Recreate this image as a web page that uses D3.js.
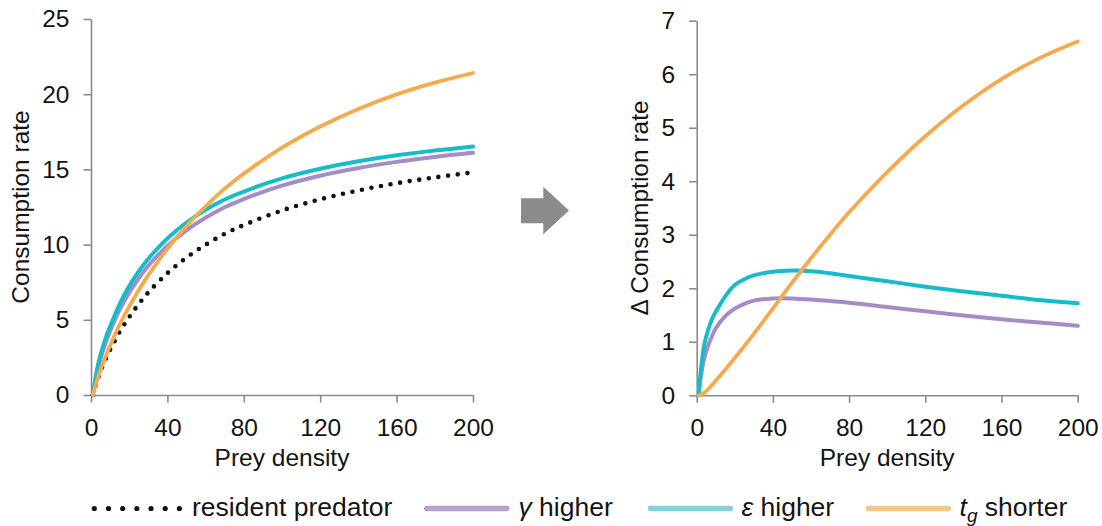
<!DOCTYPE html>
<html>
<head>
<meta charset="utf-8">
<script src="https://cdn.jsdelivr.net/npm/d3@7"></script>
<style>
  html, body { margin: 0; padding: 0; background: #fff; }
  svg { display: block; font-family: "Liberation Sans", Arial, sans-serif; }
</style>
</head>
<body>
<script>
// Prey density grid shared by every curve
const preyDensity = [1, 2, 4, 6, 8, 10, 15, 20, 25, 30, 40, 50, 60, 70, 80, 100, 120, 140, 160, 180, 200];

// Consumption rate (left panel)
const residentRate = [0, 0.45, 1.25, 1.9, 2.48, 3.0, 4.2, 5.18, 6.05, 6.82, 8.1, 9.14, 9.99, 10.72, 11.3, 12.27, 13.01, 13.6, 14.08, 14.47, 14.8];
const gammaRate    = [0, 0.75, 1.95, 2.83, 3.58, 4.25, 5.68, 6.8, 7.76, 8.59, 9.91, 10.95, 11.78, 12.48, 13.03, 13.92, 14.58, 15.09, 15.5, 15.83, 16.1];
const epsilonRate  = [0, 0.85, 2.2, 3.12, 3.9, 4.56, 6.05, 7.24, 8.22, 9.06, 10.41, 11.47, 12.31, 13.0, 13.53, 14.4, 15.04, 15.54, 15.94, 16.25, 16.52];
const tgRate       = [0, 0.46, 1.3, 2.01, 2.67, 3.27, 4.68, 5.88, 6.97, 7.97, 9.72, 11.24, 12.55, 13.72, 14.72, 16.44, 17.85, 19.02, 19.99, 20.77, 21.41];

// Change in consumption rate relative to the resident predator (right panel)
const gammaDelta   = [0, 0.3, 0.7, 0.93, 1.1, 1.25, 1.48, 1.62, 1.71, 1.77, 1.81, 1.81, 1.79, 1.76, 1.73, 1.65, 1.57, 1.49, 1.42, 1.36, 1.3];
const epsilonDelta = [0, 0.4, 0.95, 1.22, 1.42, 1.56, 1.85, 2.06, 2.17, 2.24, 2.31, 2.33, 2.32, 2.28, 2.23, 2.13, 2.03, 1.94, 1.86, 1.78, 1.72];
const tgDelta      = [0, 0.01, 0.05, 0.11, 0.19, 0.27, 0.48, 0.7, 0.92, 1.15, 1.62, 2.1, 2.56, 3.0, 3.42, 4.17, 4.84, 5.42, 5.91, 6.3, 6.61];

// Tick labels
const xTicks = [0, 40, 80, 120, 160, 200];
const leftYTicks = [0, 5, 10, 15, 20, 25];
const rightYTicks = [0, 1, 2, 3, 4, 5, 6, 7];

const W = 1102, H = 526;
const FONT = 24.5;
const LEGEND_FONT = 26.5;
const AXIS_COLOR = "#8a8a8a";
const TEXT_COLOR = "#141414";

const colors = {
  resident: "#111111",
  gamma: "#a48dc7",
  epsilon: "#17bccb",
  tg: "#f5aa4d"
};
const legendColors = {
  gamma: "#b5a2cd",
  epsilon: "#8bcfdc",
  tg: "#f3c58a"
};

const svg = d3.select("body").append("svg")
  .attr("width", W).attr("height", H)
  .attr("viewBox", `0 0 ${W} ${H}`);

svg.append("rect").attr("width", W).attr("height", H).attr("fill", "#fff");

function styleAxis(g) {
  g.attr("font-family", null).attr("font-size", null);
  g.select(".domain").attr("stroke", AXIS_COLOR).attr("stroke-width", 1.6);
  g.selectAll(".tick line").attr("stroke", AXIS_COLOR).attr("stroke-width", 1.6);
  g.selectAll(".tick text")
    .attr("fill", TEXT_COLOR)
    .style("font-size", FONT + "px")
    .style("font-family", '"Liberation Sans", Arial, sans-serif');
}

function drawPanel(cfg) {
  const x = d3.scaleLinear().domain([0, 200]).range([cfg.left, cfg.right]);
  const y = d3.scaleLinear().domain([0, cfg.yMax]).range([cfg.bottom, cfg.top]);

  svg.append("g")
    .attr("transform", `translate(0,${cfg.bottom})`)
    .call(d3.axisBottom(x).tickValues(xTicks).tickFormat(d3.format("d"))
      .tickSize(7.5).tickSizeOuter(0).tickPadding(16))
    .call(styleAxis);

  svg.append("g")
    .attr("transform", `translate(${cfg.left},0)`)
    .call(d3.axisLeft(y).tickValues(cfg.yTicks).tickFormat(d3.format("d"))
      .tickSize(7.5).tickSizeOuter(0).tickPadding(14))
    .call(styleAxis);

  // axis titles
  svg.append("text")
    .attr("x", (cfg.left + cfg.right) / 2)
    .attr("y", 466)
    .attr("text-anchor", "middle")
    .attr("fill", TEXT_COLOR)
    .style("font-size", FONT + "px")
    .text("Prey density");

  svg.append("text")
    .attr("transform", `translate(${cfg.titleX},${(cfg.top + cfg.bottom) / 2}) rotate(-90)`)
    .attr("text-anchor", "middle")
    .attr("fill", TEXT_COLOR)
    .style("font-size", FONT + "px")
    .text(cfg.title);

  const line = d3.line()
    .x((d, i) => x(preyDensity[i]))
    .y(d => y(d))
    .curve(d3.curveCatmullRom.alpha(0.5));

  cfg.series.forEach(s => {
    const p = svg.append("path")
      .attr("d", line(s.values))
      .attr("fill", "none")
      .attr("stroke", s.color)
      .attr("stroke-width", s.width)
      .attr("stroke-linecap", "round")
      .attr("stroke-linejoin", "round");
    if (s.dash) p.attr("stroke-dasharray", s.dash);
  });
}

drawPanel({
  left: 91, right: 473, top: 19, bottom: 395,
  yMax: 25, yTicks: leftYTicks,
  title: "Consumption rate", titleX: 29,
  series: [
    { values: residentRate, color: colors.resident, width: 4.6, dash: "0 9.7" },
    { values: gammaRate, color: colors.gamma, width: 4 },
    { values: epsilonRate, color: colors.epsilon, width: 4 },
    { values: tgRate, color: colors.tg, width: 3.8 }
  ]
});

drawPanel({
  left: 696.7, right: 1077.7, top: 20.7, bottom: 395.3,
  yMax: 7, yTicks: rightYTicks,
  title: "\u0394 Consumption rate", titleX: 648,
  series: [
    { values: gammaDelta, color: colors.gamma, width: 4 },
    { values: epsilonDelta, color: colors.epsilon, width: 4 },
    { values: tgDelta, color: colors.tg, width: 3.8 }
  ]
});

// block arrow between the panels
svg.append("path")
  .attr("d", "M521,198.3 L543.3,198.3 L543.3,186.7 L569,210.5 L543.3,234.3 L543.3,223.3 L521,223.3 Z")
  .attr("fill", "#8c8c8c");

// legend
const legendY = 508.5;
const legendItems = [
  { key: "resident", x: 94.3, textX: 192 },
  { key: "gamma", x: 424.3, textX: 518.5 },
  { key: "epsilon", x: 648, textX: 741.5 },
  { key: "tg", x: 866, textX: 959.5 }
];

const lg = svg.append("g");
legendItems.forEach(item => {
  if (item.key === "resident") {
    lg.append("line")
      .attr("x1", item.x).attr("x2", item.x + 85.1)
      .attr("y1", legendY).attr("y2", legendY)
      .attr("stroke", colors.resident)
      .attr("stroke-width", 5.2)
      .attr("stroke-linecap", "round")
      .attr("stroke-dasharray", "0 14.18");
  } else {
    lg.append("line")
      .attr("x1", item.x + 2.5).attr("x2", item.x + 82.5)
      .attr("y1", legendY).attr("y2", legendY)
      .attr("stroke", legendColors[item.key])
      .attr("stroke-width", 5.5)
      .attr("stroke-linecap", "round");
  }
  const t = lg.append("text")
    .attr("x", item.textX)
    .attr("y", 516)
    .attr("fill", TEXT_COLOR)
    .style("font-size", LEGEND_FONT + "px");
  if (item.key === "resident") {
    t.text("resident predator");
  } else if (item.key === "gamma") {
    t.append("tspan").style("font-style", "italic").text("\u03b3");
    t.append("tspan").text(" higher");
  } else if (item.key === "epsilon") {
    t.append("tspan").style("font-style", "italic").text("\u03b5");
    t.append("tspan").text(" higher");
  } else {
    t.append("tspan").style("font-style", "italic").text("t");
    t.append("tspan").style("font-style", "italic").style("font-size", "19px").attr("dy", 6).text("g");
    t.append("tspan").attr("dy", -6).text(" shorter");
  }
});
</script>
</body>
</html>
